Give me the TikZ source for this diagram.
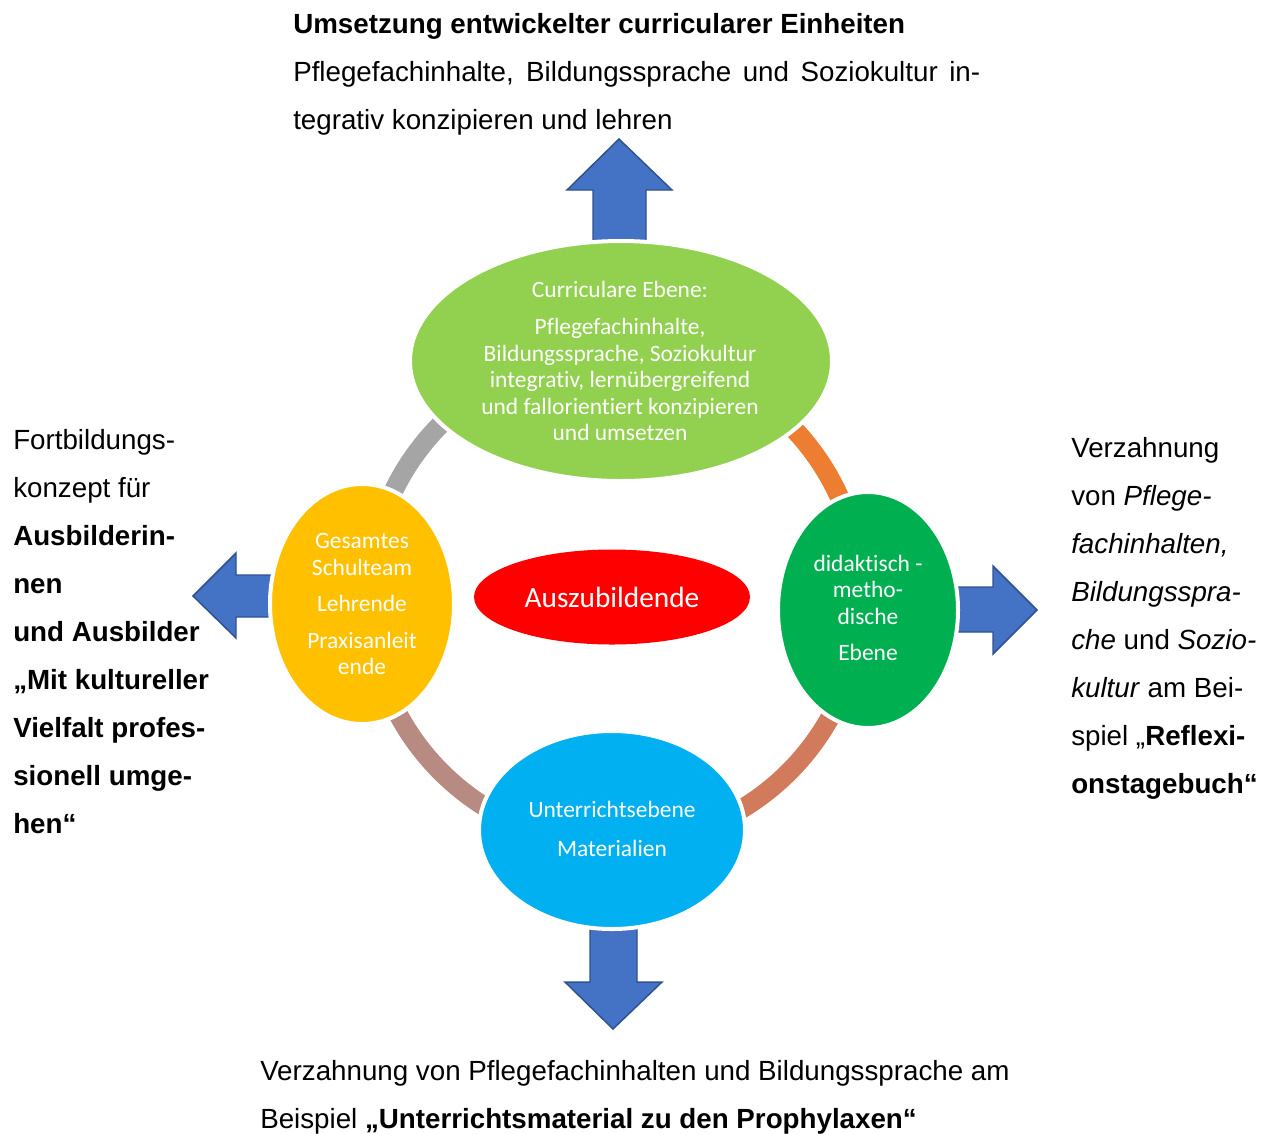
\documentclass[tikz,border=0pt]{standalone}
\usepackage{fontspec}
\setmainfont{Liberation Sans}
\newfontfamily\calfont[RawFeature={-liga;-clig;-calt;-dlig}]{Carlito}
\usetikzlibrary{shapes.geometric}
\definecolor{arrowblue}{HTML}{4472C4}
\definecolor{arrowedge}{HTML}{2F528F}
\definecolor{lightgreen}{HTML}{92D050}
\definecolor{goldyellow}{HTML}{FFC000}
\definecolor{darkgreen}{HTML}{00B050}
\definecolor{skyblue}{HTML}{00B0F0}
\definecolor{ringgray}{HTML}{A5A5A5}
\definecolor{ringorange}{HTML}{ED7D31}
\definecolor{ringrust}{HTML}{D17B5C}
\definecolor{ringmauve}{HTML}{B88B82}
\def\pxu{0.75pt}
\begin{document}
\begin{tikzpicture}[x=0.75pt,y=-0.75pt,
  ellbox/.style={ellipse, draw=white, line width=3pt, inner sep=0pt},
  elltext/.style={text=white, align=center, inner sep=0pt, font={\calfont\fontsize{17.6}{19.9}\selectfont}},
  blockarrow/.style={fill=arrowblue, draw=arrowedge, line width=1.1pt, line join=miter},
  ringarc/.style={line width=14.5pt},
  outtext/.style={anchor=base west, inner sep=0pt, font={\fontsize{20.8}{36}\selectfont}}
]
\useasboundingbox (0,0) rectangle (1271,1133);

% ring
\coordinate (ringc) at (615,598);
\draw[ringarc, ringgray]   (ringc) ++(180:246) arc[start angle=180, end angle=270, radius=246];
\draw[ringarc, ringorange] (ringc) ++(270:246) arc[start angle=270, end angle=360, radius=246];
\draw[ringarc, ringrust]   (ringc) ++(0:246)   arc[start angle=0,   end angle=90,  radius=246];
\draw[ringarc, ringmauve]  (ringc) ++(90:246)  arc[start angle=90,  end angle=180, radius=246];

% block arrows
\draw[blockarrow] (593,242) -- (593,190) -- (567,190) -- (619,139) -- (672,190) -- (646,190) -- (646,242) -- cycle;
\draw[blockarrow] (274,575) -- (236,575) -- (236,553) -- (193,596) -- (236,638) -- (236,617) -- (274,617) -- cycle;
\draw[blockarrow] (956,587) -- (993,587) -- (993,566) -- (1037,610) -- (993,654) -- (993,632) -- (956,632) -- cycle;
\draw[blockarrow] (590,927) -- (590,982) -- (565,982) -- (613,1029) -- (662,982) -- (637,982) -- (637,927) -- cycle;

% ellipses
\node[ellbox, fill=lightgreen, minimum width={422*\pxu}, minimum height={240*\pxu}] (cur) at (621,361) {};
\node[ellbox, fill=goldyellow, minimum width={184*\pxu}, minimum height={240*\pxu}] (team) at (362,604) {};
\node[ellbox, fill=darkgreen,  minimum width={180*\pxu}, minimum height={236*\pxu}] (did) at (868,610) {};
\node[ellbox, fill=skyblue,    minimum width={266*\pxu}, minimum height={198*\pxu}] (unt) at (612,830) {};
\node[ellipse, fill=red, inner sep=0pt, minimum width={276*\pxu}, minimum height={95*\pxu}] (azb) at (612,597) {};

% ellipse texts
\node[elltext] (curtext) at (620,361) {Curriculare Ebene:\\[7.8pt]Pflegefachinhalte,\\Bildungssprache, Soziokultur\\integrativ, lernübergreifend\\und fallorientiert konzipieren\\und umsetzen};
\node[elltext] (teamtext) at (362,604) {Gesamtes\\Schulteam\\[7.5pt]Lehrende\\[7.5pt]Praxisanleit\\ende};
\node[elltext] (didtext) at (868,608) {didaktisch -\\metho-\\dische\\[7.5pt]Ebene};
\node[elltext] (unttext) at (612,829) {Unterrichtsebene\\[9.5pt]Materialien};
\node[text=white, inner sep=0pt, font={\calfont\fontsize{22}{26}\selectfont}] (azbtext) at (612,597) {Auszubildende};

% outer texts
\begin{scope}
\clip (0,0) rectangle (1271,134);
\node[outtext] (toptext) at (293,33) {\vtop{\baselineskip=36pt
  \hbox{\textbf{Umsetzung entwickelter curricularer Einheiten}}
  \hbox{\makebox[515.25pt][s]{Pflegefachinhalte, Bildungssprache und Soziokultur in-}}
  \hbox{tegrativ konzipieren und lehren}}};
\end{scope}

\node[outtext] (lefttext) at (13,449) {\vtop{\baselineskip=36pt
  \hbox{Fortbildungs-}
  \hbox{konzept für}
  \hbox{\textbf{Ausbilderin-}}
  \hbox{\textbf{nen}}
  \hbox{\textbf{und Ausbilder}}
  \hbox{\textbf{„Mit kultureller}}
  \hbox{\textbf{Vielfalt profes-}}
  \hbox{\textbf{sionell umge-}}
  \hbox{\textbf{hen“}}}};

\node[outtext] (righttext) at (1071,457) {\vtop{\baselineskip=36pt
  \hbox{Verzahnung}
  \hbox{von \textit{Pflege-}}
  \hbox{\textit{fachinhalten,}}
  \hbox{\textit{Bildungsspra-}}
  \hbox{\textit{che} und \textit{Sozio-}}
  \hbox{\textit{kultur} am Bei-}
  \hbox{spiel „\textbf{Reflexi-}}
  \hbox{\textbf{onstagebuch“}}}};

\node[outtext] (bottomtext) at (260,1080) {\vtop{\baselineskip=36pt
  \hbox{Verzahnung von Pflegefachinhalten und Bildungssprache am}
  \hbox{Beispiel \textbf{„Unterrichtsmaterial zu den Prophylaxen“}}}};
\end{tikzpicture}
\end{document}
